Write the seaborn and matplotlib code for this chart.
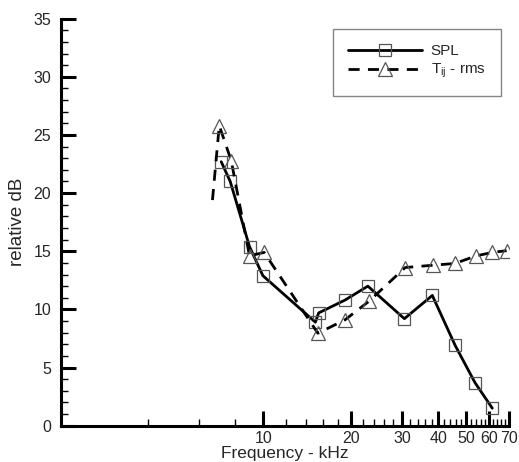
import matplotlib
matplotlib.use("Agg")
import matplotlib.pyplot as plt
import matplotlib.ticker as mticker
import pandas as pd
import seaborn as sns

# SPL spectrum (square markers)
spl_freq = [7.15, 7.68, 8.95, 9.95, 15.1, 15.5, 19.1, 22.9, 30.6, 38.2, 45.8, 53.6, 61.5]
spl_db = [22.7, 21.0, 15.4, 12.9, 8.9, 9.7, 10.8, 12.0, 9.2, 11.2, 6.9, 3.7, 1.5]

# T_ij rms spectrum (triangle markers, first point has no symbol)
tij_freq = [6.67, 7.04, 7.74, 8.95, 10.05, 15.4, 19.1, 23.1, 30.8, 38.5, 45.7, 54.1, 61.5, 68.9]
tij_db = [19.4, 25.8, 22.8, 14.6, 14.9, 7.95, 9.1, 10.7, 13.6, 13.8, 13.95, 14.6, 14.9, 15.05]

major_x = [10, 20, 30, 40, 50, 60, 70]
minor_x = [2, 4, 6, 8, 12, 14, 16, 18, 22, 24, 26, 28, 32, 34, 36, 38,
           42, 44, 46, 48, 52, 54, 56, 58, 62, 64, 66, 68]

spl = pd.DataFrame({'freq': spl_freq, 'db': spl_db})
tij = pd.DataFrame({'freq': tij_freq, 'db': tij_db})

sns.set_style('white')
plt.rcParams['font.family'] = ['Liberation Sans', 'DejaVu Sans']
plt.rcParams['mathtext.default'] = 'regular'

fig = plt.figure(figsize=(5.19, 4.62), dpi=100)
ax = fig.add_axes([0.117, 0.0786, 0.863, 0.881])

sns.lineplot(data=spl, x='freq', y='db', ax=ax, estimator=None, sort=False,
             color='black', lw=2.0, marker='s', markersize=8,
             markerfacecolor='none', markeredgecolor='#555555', markeredgewidth=0.9,
             label='SPL')
sns.lineplot(data=tij, x='freq', y='db', ax=ax, estimator=None, sort=False,
             color='black', lw=2.0, linestyle=(0, (4, 3)), marker='^', markersize=10,
             markerfacecolor='none', markeredgecolor='#555555', markeredgewidth=0.9,
             markevery=list(range(1, len(tij_freq))),
             label='T$_{ij}$ - rms')

ax.set_xscale('log')
ax.set_xlim(2, 70)
ax.set_ylim(0, 35)
ax.xaxis.set_major_locator(mticker.FixedLocator(major_x))
ax.xaxis.set_major_formatter(mticker.FixedFormatter([str(v) for v in major_x]))
ax.xaxis.set_minor_locator(mticker.FixedLocator(minor_x))
ax.xaxis.set_minor_formatter(mticker.NullFormatter())
ax.yaxis.set_major_locator(mticker.MultipleLocator(5))
ax.yaxis.set_minor_locator(mticker.MultipleLocator(1))

for side in ['top', 'right']:
    ax.spines[side].set_visible(False)
for side in ['left', 'bottom']:
    ax.spines[side].set_linewidth(2.2)
    ax.spines[side].set_color('black')

ax.tick_params(which='both', bottom=True, left=True, top=False, right=False)
ax.tick_params(which='major', direction='in', length=11, width=2.2, labelsize=11.5,
               color='black', pad=4)
ax.tick_params(which='minor', direction='in', length=5, width=1.0, color='black')
ax.tick_params(axis='y', which='major', pad=7)

ax.set_xlabel('Frequency - kHz', fontsize=12.5, labelpad=0)
ax.set_ylabel('relative dB', fontsize=13.5, labelpad=5)

leg = ax.legend(loc='upper left', bbox_to_anchor=(333 / 519, 1 - 29 / 462),
                bbox_transform=fig.transFigure, borderaxespad=0,
                frameon=True, fancybox=False, handlelength=4.8, handletextpad=0.6,
                borderpad=1.0, labelspacing=0.25, fontsize=11)
leg.get_frame().set_edgecolor('#666666')
leg.get_frame().set_linewidth(1.0)

fig.savefig('out.png', dpi=100)
